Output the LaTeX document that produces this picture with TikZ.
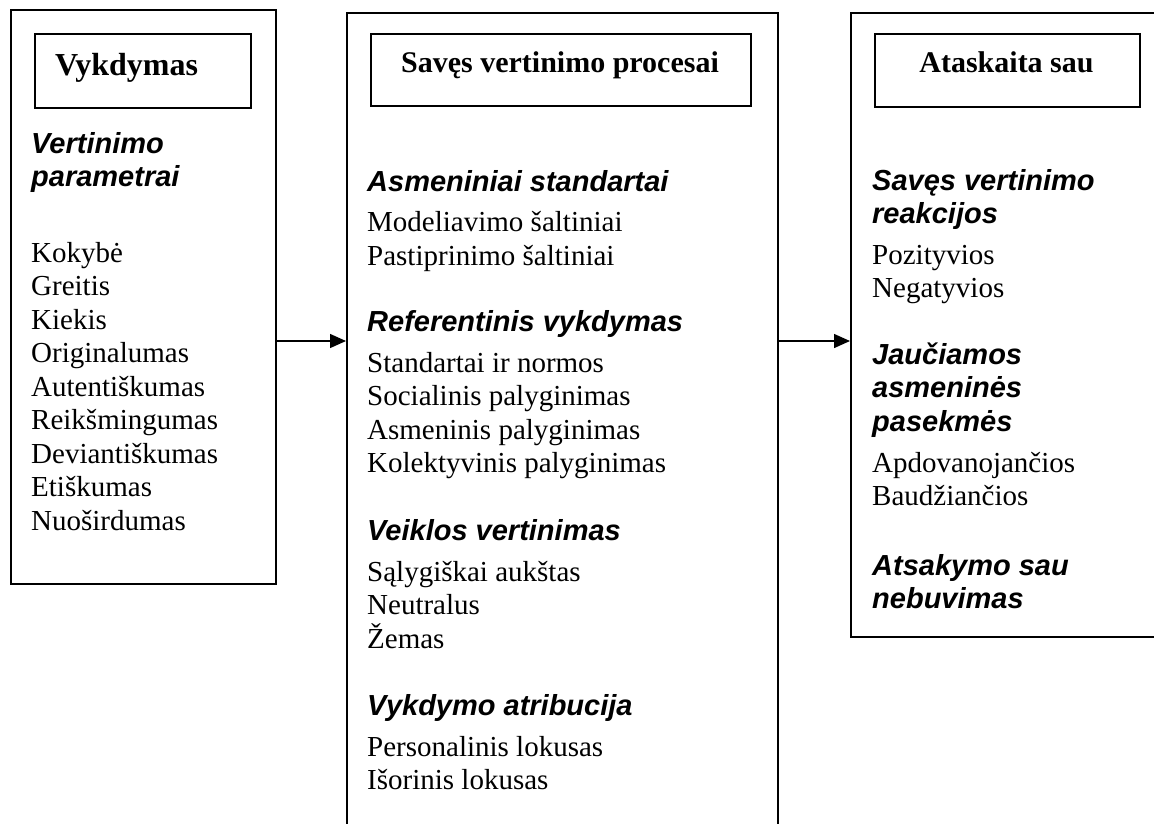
\documentclass[tikz,border=0pt]{standalone}
\usepackage{fontspec}
\setmainfont{Liberation Serif}
\newfontfamily\headfont{Liberation Sans}
\usetikzlibrary{arrows.meta}

\tikzset{
    frame/.style = {draw, line width=1.6pt, anchor=north west, inner sep=0pt},
    title/.style = {anchor=base, inner sep=0pt, font=\bfseries\fontsize{30}{34}\selectfont},
    head/.style = {anchor=base west, inner sep=0pt, font=\headfont\bfseries\itshape\fontsize{29}{33}\selectfont},
    item/.style = {anchor=base west, inner sep=0pt, font=\fontsize{29}{33}\selectfont},
    arr/.style = {-{Triangle[length=16pt, width=14pt]}, line width=1.4pt}
}

\begin{document}
\begin{tikzpicture}[x=1pt, y=-1pt]
    \useasboundingbox (0,0) rectangle (1154,823);
    \clip (0,0) rectangle (1154,823);

    % outer boxes
    \node[frame, minimum width=265pt, minimum height=574pt] (vykd) at (10,9) {};
    \node[frame, minimum width=431pt, minimum height=850pt] (proc) at (346,12) {};
    \node[frame, minimum width=314pt, minimum height=624pt] (atsk) at (850,12) {};

    % title boxes
    \node[frame, minimum width=216pt, minimum height=74pt] (vykdbox) at (34,33) {};
    \node[frame, minimum width=380pt, minimum height=72pt] (procbox) at (370,33) {};
    \node[frame, minimum width=265pt, minimum height=73pt] (atskbox) at (874,33) {};

    \node[title, anchor=base west, font=\bfseries\fontsize{32}{36}\selectfont] (vykdtitle) at (55,75) {Vykdymas};
    \node[title] (proctitle) at (560,72) {Savęs vertinimo procesai};
    \node[title] (atsktitle) at (1006.5,72) {Ataskaita sau};

    % left column
    \node[head] (par1) at (31,153) {Vertinimo};
    \node[head] (par2) at (31,186) {parametrai};
    \foreach \txt [count=\i] in {Kokybė, Greitis, Kiekis, Originalumas, Autentiškumas,
        Reikšmingumas, Deviantiškumas, Etiškumas, Nuoširdumas}
        \node[item] (k\i) at (31,{262+33.5*(\i-1)}) {\txt};

    % middle column
    \node[head] (std) at (367,191) {Asmeniniai standartai};
    \foreach \txt [count=\i] in {Modeliavimo šaltiniai, Pastiprinimo šaltiniai}
        \node[item] (std\i) at (367,{231.5+33.5*(\i-1)}) {\txt};
    \node[head] (ref) at (367,331.5) {Referentinis vykdymas};
    \foreach \txt [count=\i] in {Standartai ir normos, Socialinis palyginimas,
        Asmeninis palyginimas, Kolektyvinis palyginimas}
        \node[item] (ref\i) at (367,{372+33.5*(\i-1)}) {\txt};
    \node[head] (veik) at (367,540) {Veiklos vertinimas};
    \foreach \txt [count=\i] in {Sąlygiškai aukštas, Neutralus, Žemas}
        \node[item] (veik\i) at (367,{581+33.5*(\i-1)}) {\txt};
    \node[head] (atr) at (367,715) {Vykdymo atribucija};
    \foreach \txt [count=\i] in {Personalinis lokusas, Išorinis lokusas}
        \node[item] (atr\i) at (367,{756+33.5*(\i-1)}) {\txt};

    % right column
    \node[head] (reak1) at (872,190) {Savęs vertinimo};
    \node[head] (reak2) at (872,223) {reakcijos};
    \foreach \txt [count=\i] in {Pozityvios, Negatyvios}
        \node[item] (poz\i) at (872,{264+33.5*(\i-1)}) {\txt};
    \node[head] (pas1) at (872,364) {Jaučiamos};
    \node[head] (pas2) at (872,397.5) {asmeninės};
    \node[head] (pas3) at (872,431) {pasekmės};
    \foreach \txt [count=\i] in {Apdovanojančios, Baudžiančios}
        \node[item] (pas\i x) at (872,{472+33.5*(\i-1)}) {\txt};
    \node[head] (neb1) at (872,575) {Atsakymo sau};
    \node[head] (neb2) at (872,608.5) {nebuvimas};

    % arrows
    \coordinate (row) at (0,341);
    \draw[arr] (vykd.east |- row) -- (proc.west |- row);
    \draw[arr] (proc.east |- row) -- (atsk.west |- row);
\end{tikzpicture}
\end{document}
